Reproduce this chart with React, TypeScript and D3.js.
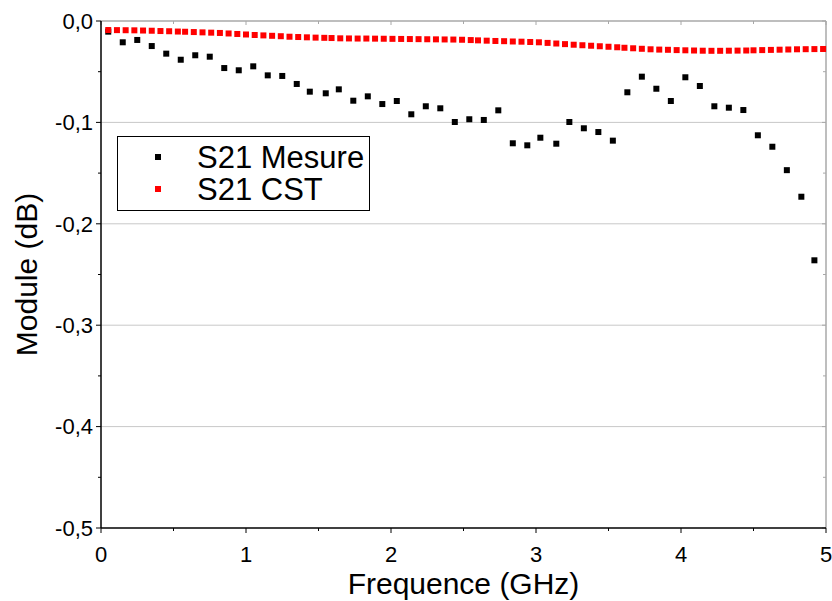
import React from "react";
import * as d3 from "d3";

const measFreq = [0.05, 0.15, 0.25, 0.35, 0.45, 0.55, 0.65, 0.75, 0.85, 0.95, 1.05, 1.15, 1.25, 1.35, 1.44, 1.55, 1.64, 1.74, 1.84, 1.94, 2.04, 2.14, 2.24, 2.34, 2.44, 2.54, 2.64, 2.74, 2.84, 2.94, 3.03, 3.14, 3.23, 3.33, 3.43, 3.53, 3.63, 3.73, 3.83, 3.93, 4.03, 4.13, 4.23, 4.33, 4.43, 4.53, 4.63, 4.73, 4.83, 4.92];
const measVal = [-0.0105, -0.021, -0.0187, -0.0247, -0.0322, -0.0382, -0.0338, -0.0352, -0.0464, -0.0486, -0.0447, -0.0536, -0.0542, -0.0621, -0.0697, -0.0713, -0.0674, -0.0786, -0.0743, -0.0819, -0.0789, -0.092, -0.0841, -0.0861, -0.0996, -0.0969, -0.0976, -0.0881, -0.1206, -0.1226, -0.1151, -0.121, -0.0996, -0.1058, -0.1095, -0.118, -0.0703, -0.0549, -0.0668, -0.0789, -0.0555, -0.0641, -0.0841, -0.0855, -0.0878, -0.1127, -0.124, -0.1471, -0.1733, -0.236];

const cstFreq = [0.05, 0.11, 0.17, 0.23, 0.29, 0.35, 0.41, 0.47, 0.53, 0.58, 0.64, 0.70, 0.76, 0.82, 0.88, 0.94, 1.00, 1.06, 1.12, 1.18, 1.24, 1.30, 1.36, 1.42, 1.48, 1.54, 1.59, 1.65, 1.71, 1.77, 1.83, 1.89, 1.95, 2.01, 2.07, 2.13, 2.19, 2.25, 2.31, 2.37, 2.43, 2.49, 2.55, 2.60, 2.66, 2.72, 2.78, 2.84, 2.90, 2.96, 3.02, 3.08, 3.14, 3.20, 3.26, 3.32, 3.38, 3.44, 3.50, 3.56, 3.61, 3.67, 3.73, 3.79, 3.85, 3.91, 3.97, 4.03, 4.09, 4.15, 4.21, 4.27, 4.33, 4.39, 4.45, 4.50, 4.56, 4.62, 4.68, 4.74, 4.80, 4.86, 4.92, 4.98];
const cstVal = [-0.0089, -0.009, -0.0091, -0.0092, -0.0094, -0.0096, -0.0099, -0.0101, -0.0104, -0.0106, -0.0109, -0.0112, -0.0115, -0.0118, -0.0123, -0.0128, -0.0133, -0.0138, -0.0142, -0.0146, -0.015, -0.0155, -0.0158, -0.0161, -0.0164, -0.0166, -0.0168, -0.0171, -0.0172, -0.0173, -0.0173, -0.0174, -0.0175, -0.0176, -0.0177, -0.0178, -0.0179, -0.018, -0.0181, -0.0182, -0.0183, -0.0185, -0.0188, -0.0191, -0.0194, -0.0197, -0.0199, -0.0202, -0.0204, -0.0207, -0.021, -0.0216, -0.0222, -0.0228, -0.0234, -0.0239, -0.0244, -0.0249, -0.0254, -0.0259, -0.0264, -0.0269, -0.0274, -0.0279, -0.0282, -0.0284, -0.0287, -0.0289, -0.0291, -0.0293, -0.0294, -0.0294, -0.0293, -0.0292, -0.0291, -0.0289, -0.0287, -0.0285, -0.0283, -0.0281, -0.0279, -0.0278, -0.0277, -0.0276];

const xTicks = [0, 1, 2, 3, 4, 5];
const xMinor = [0.5, 1.5, 2.5, 3.5, 4.5];
const yTicks = [0, -0.1, -0.2, -0.3, -0.4, -0.5];
const yMinor = [-0.05, -0.15, -0.25, -0.35, -0.45];
const seriesNames = ["S21 Mesure", "S21 CST"];
const seriesColors = ["#000000", "#ff0000"];

const FONT = "Arial, 'Liberation Sans', Helvetica, sans-serif";

export default function App() {
  const L = 101, R = 826, T = 21, B = 528;
  const x = d3.scaleLinear().domain([0, 5]).range([L, R]);
  const y = d3.scaleLinear().domain([-0.5, 0]).range([B, T]);
  const fmt = (v: number) => d3.format(".1f")(v).replace(".", ",").replace("−", "-");
  const ms = 6;
  const axisGray = "#a8a8a8";
  const gridGray = "#c8c8c8";

  return (
    <svg width={832} height={601} style={{ position: "absolute", left: 0, top: 0, background: "#fff" }} fontFamily={FONT}>
      <rect x={0} y={0} width={832} height={601} fill="#fff" />
      {/* grid */}
      {yTicks.filter((t) => t !== 0 && t !== -0.5).map((t) => (
        <line key={"g" + t} x1={L} x2={R} y1={y(t)} y2={y(t)} stroke={gridGray} strokeWidth={1} />
      ))}
      {/* top & right frame */}
      <line x1={L} x2={R} y1={T} y2={T} stroke={axisGray} strokeWidth={1.5} />
      <line x1={R} x2={R} y1={T} y2={B} stroke={axisGray} strokeWidth={1.5} />
      {xTicks.map((t) => (
        <line key={"tt" + t} x1={x(t)} x2={x(t)} y1={T} y2={T + 4} stroke={axisGray} strokeWidth={1} />
      ))}
      {xMinor.map((t) => (
        <line key={"tm" + t} x1={x(t)} x2={x(t)} y1={T} y2={T + 3} stroke={axisGray} strokeWidth={1} />
      ))}
      {yTicks.map((t) => (
        <line key={"rt" + t} x1={R} x2={R - 4} y1={y(t)} y2={y(t)} stroke={axisGray} strokeWidth={1} />
      ))}
      {yMinor.map((t) => (
        <line key={"rm" + t} x1={R} x2={R - 3} y1={y(t)} y2={y(t)} stroke={axisGray} strokeWidth={1} />
      ))}
      {/* left axis */}
      <line x1={L} x2={L} y1={T} y2={B} stroke="#000" strokeWidth={1.5} />
      {yTicks.map((t) => (
        <g key={"yl" + t}>
          <line x1={L} x2={L - 5} y1={y(t)} y2={y(t)} stroke="#000" strokeWidth={1} />
          <text x={L - 8} y={y(t)} dy="0.35em" textAnchor="end" fontSize={22} fill="#000">{fmt(t)}</text>
        </g>
      ))}
      {yMinor.map((t) => (
        <line key={"ym" + t} x1={L} x2={L - 3} y1={y(t)} y2={y(t)} stroke="#000" strokeWidth={1} />
      ))}
      {/* bottom axis */}
      <line x1={L} x2={R} y1={B} y2={B} stroke="#000" strokeWidth={1.5} />
      {xTicks.map((t) => (
        <g key={"xl" + t}>
          <line x1={x(t)} x2={x(t)} y1={B} y2={B + 5} stroke="#000" strokeWidth={1} />
          <text x={x(t)} y={B + 34} textAnchor="middle" fontSize={22} fill="#000">{t}</text>
        </g>
      ))}
      {xMinor.map((t) => (
        <line key={"xm" + t} x1={x(t)} x2={x(t)} y1={B} y2={B + 3} stroke="#000" strokeWidth={1} />
      ))}
      {/* titles */}
      <text x={(L + R) / 2} y={594} textAnchor="middle" fontSize={30} fill="#000">Frequence (GHz)</text>
      <text transform={`translate(37,${(T + B) / 2}) rotate(-90)`} textAnchor="middle" fontSize={30} fill="#000">Module (dB)</text>
      {/* data */}
      {measFreq.map((f, i) => (
        <rect key={"m" + i} x={x(f) - ms / 2} y={y(measVal[i]) - ms / 2} width={ms} height={ms} fill={seriesColors[0]} />
      ))}
      {cstFreq.map((f, i) => (
        <rect key={"c" + i} x={x(f) - ms / 2} y={y(cstVal[i]) - ms / 2} width={ms} height={ms} fill={seriesColors[1]} />
      ))}
      {/* legend */}
      <rect x={117.5} y={136.5} width={252} height={74} fill="#fff" stroke="#000" strokeWidth={1} />
      {seriesNames.map((n, i) => (
        <g key={"lg" + i}>
          <rect x={158 - ms / 2} y={157 + i * 32 - ms / 2} width={ms} height={ms} fill={seriesColors[i]} />
          <text x={197} y={157 + i * 32} dy="0.36em" fontSize={31} fill="#000">{n}</text>
        </g>
      ))}
    </svg>
  );
}
